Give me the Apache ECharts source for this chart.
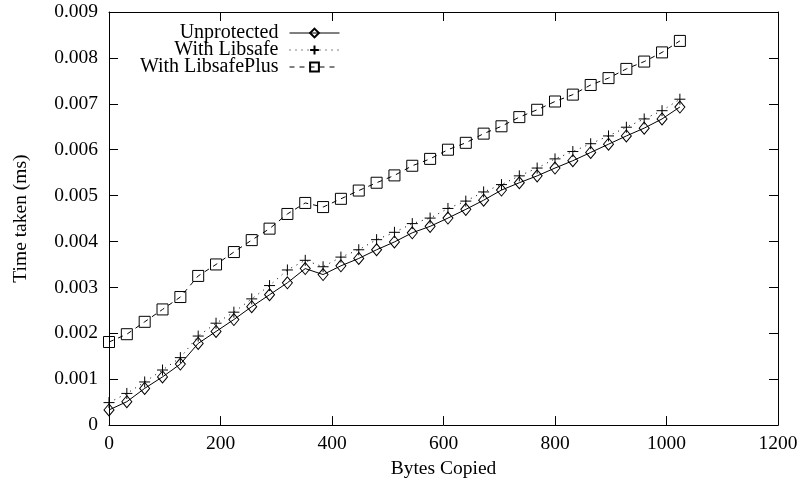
<!DOCTYPE html>
<html>
<head>
<meta charset="utf-8">
<script src="https://cdn.jsdelivr.net/npm/echarts@6/dist/echarts.min.js"></script>
<style>
html, body { margin: 0; padding: 0; background: #fff; }
#chart { width: 808px; height: 484px; }
</style>
</head>
<body>
<div id="chart"></div>
<script>
// bytes copied, every 32 bytes
var bytes = [0, 32, 64, 96, 128, 160, 192, 224, 256, 288, 320, 352, 384, 416, 448, 480, 512,
             544, 576, 608, 640, 672, 704, 736, 768, 800, 832, 864, 896, 928, 960, 992, 1024];
var unprotected = [0.00033, 0.00051, 0.00080, 0.00105, 0.00133, 0.00178, 0.00204, 0.00230, 0.00258, 0.00284, 0.00310,
                   0.00341, 0.00328, 0.00347, 0.00363, 0.00382, 0.00399, 0.00419, 0.00433, 0.00451, 0.00470,
                   0.00490, 0.00512, 0.00528, 0.00543, 0.00560, 0.00576, 0.00594, 0.00612, 0.00630, 0.00647, 0.00667, 0.00693];
var libsafe = [0.00049, 0.00069, 0.00094, 0.00120, 0.00147, 0.00194, 0.00222, 0.00246, 0.00275, 0.00304, 0.00338,
               0.00359, 0.00345, 0.00366, 0.00382, 0.00404, 0.00420, 0.00439, 0.00451, 0.00472, 0.00488,
               0.00508, 0.00524, 0.00543, 0.00560, 0.00580, 0.00596, 0.00613, 0.00630, 0.00649, 0.00667, 0.00685, 0.00710];
var libsafePlus = [0.00181, 0.00198, 0.00225, 0.00252, 0.00279, 0.00325, 0.00350, 0.00377, 0.00403, 0.00428, 0.00460,
                   0.00484, 0.00475, 0.00493, 0.00511, 0.00528, 0.00544, 0.00565, 0.00580, 0.00600, 0.00615,
                   0.00635, 0.00651, 0.00671, 0.00687, 0.00705, 0.00720, 0.00741, 0.00756, 0.00776, 0.00792, 0.00812, 0.00837];
var seriesNames = ['Unprotected', 'With Libsafe', 'With LibsafePlus'];

var font = 'Liberation Serif';
var fs = 19.5;
var plusPath = 'path://M0,5L10,5M5,0L5,10';

function pairs(vals) {
    var out = [];
    for (var i = 0; i < bytes.length; i++) out.push([bytes[i], vals[i]]);
    return out;
}

var tickIn = { show: true, inside: true, length: 9, lineStyle: { color: '#000', width: 1 } };
var axisLine = { show: true, onZero: false, lineStyle: { color: '#000', width: 1 } };

var option = {
    animation: false,
    backgroundColor: '#fff',
    textStyle: { fontFamily: font },
    grid: { left: 109, right: 30, top: 12, bottom: 58 },
    legend: [0, 1, 2].map(function (i) {
        return {
            data: [seriesNames[i]],
            right: 468,
            top: 23 + i * 17,
            align: 'right',
            itemWidth: 50,
            itemHeight: 11,
            itemGap: 0,
            padding: 0,
            selectedMode: false,
            lineStyle: { width: 1 },
            textStyle: { fontFamily: font, fontSize: 20, lineHeight: 17, color: '#000', padding: [0, 6, 0, 0] }
        };
    }),
    xAxis: [{
        type: 'value', min: 0, max: 1200, interval: 200,
        name: 'Bytes Copied', nameLocation: 'middle', nameGap: 33,
        nameTextStyle: { fontFamily: font, fontSize: fs, color: '#000' },
        axisLine: axisLine, axisTick: tickIn,
        axisLabel: {
            color: '#000', fontFamily: font, fontSize: fs, margin: 9,
            formatter: function (v) { return String(v); }
        },
        splitLine: { show: false }
    }, {
        type: 'value', position: 'top', min: 0, max: 1200, interval: 200,
        axisLine: axisLine, axisTick: tickIn,
        axisLabel: { show: false }, splitLine: { show: false }
    }],
    yAxis: [{
        type: 'value', min: 0, max: 0.009, interval: 0.001,
        name: 'Time taken (ms)', nameLocation: 'middle', nameGap: 78,
        nameTextStyle: { fontFamily: font, fontSize: fs, color: '#000' },
        axisLine: axisLine, axisTick: tickIn,
        axisLabel: {
            color: '#000', fontFamily: font, fontSize: fs, margin: 11,
            formatter: function (v) { return v === 0 ? '0' : v.toFixed(3); }
        },
        splitLine: { show: false }
    }, {
        type: 'value', position: 'right', min: 0, max: 0.009, interval: 0.001,
        axisLine: axisLine, axisTick: tickIn,
        axisLabel: { show: false }, splitLine: { show: false }
    }],
    series: [{
        name: seriesNames[0], type: 'line', data: pairs(unprotected),
        symbol: 'diamond', symbolSize: [10, 12],
        lineStyle: { color: '#000', width: 1, type: 'solid' },
        itemStyle: { color: 'rgba(0,0,0,0)', borderColor: '#000', borderWidth: 1 }
    }, {
        name: seriesNames[1], type: 'line', data: pairs(libsafe),
        symbol: plusPath, symbolSize: 11,
        lineStyle: { color: '#000', width: 1, type: [1, 5] },
        itemStyle: { color: 'rgba(0,0,0,0)', borderColor: '#000', borderWidth: 1 }
    }, {
        name: seriesNames[2], type: 'line', data: pairs(libsafePlus),
        symbol: 'rect', symbolSize: 11,
        lineStyle: { color: '#000', width: 1, type: [5, 5] },
        itemStyle: { color: 'rgba(0,0,0,0)', borderColor: '#000', borderWidth: 1 }
    }]
};

var myChart = echarts.init(document.getElementById('chart'), null, { renderer: 'canvas' });
myChart.setOption(option);
</script>
</body>
</html>
